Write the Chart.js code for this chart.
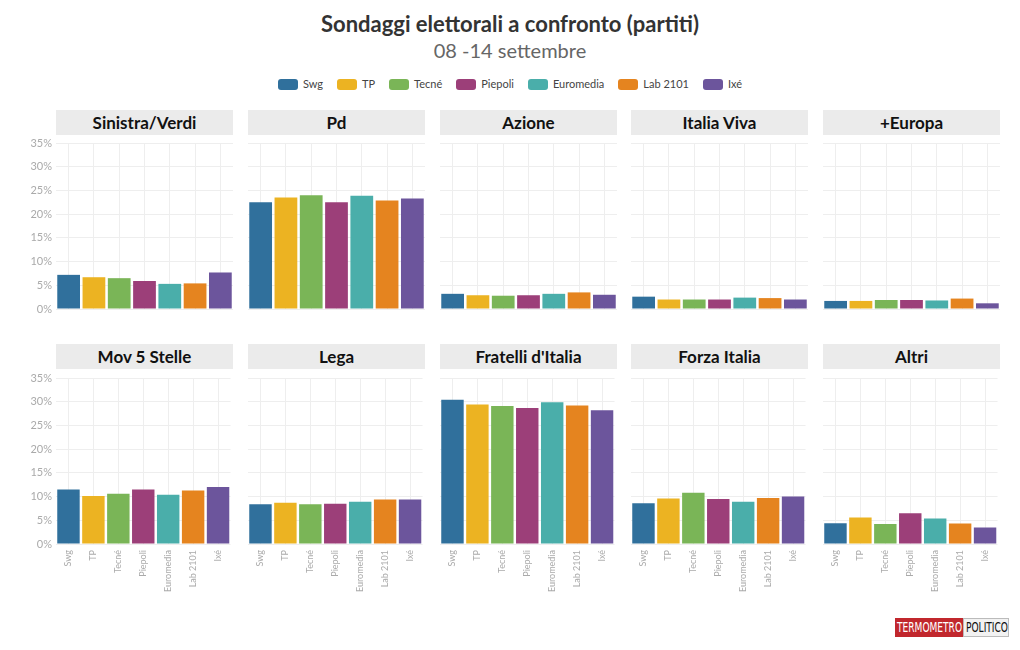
<!DOCTYPE html>
<html>
<head>
<meta charset="utf-8">
<script src="https://cdn.jsdelivr.net/npm/chart.js@4.4.0/dist/chart.umd.min.js"></script>
<style>
  body { margin: 0; width: 1020px; height: 650px; background: #fff; font-family: Lato, sans-serif; position: relative; overflow: hidden; }
  .title { position: absolute; left: 0; width: 1020px; top: 10px; text-align: center; font-size: 22px; font-weight: bold; color: #333; }
  .subtitle { position: absolute; left: 0; width: 1020px; top: 38px; text-align: center; font-size: 20px; color: #666; }
  #legend { position: absolute; left: 0; width: 1020px; top: 77px; text-align: center; font-size: 11px; color: #444; }
  #legend span.item { display: inline-block; margin: 0 7px; }
  #legend i { display: inline-block; width: 20px; height: 11px; border-radius: 3px; vertical-align: -2px; margin-right: 5px; }
  .strip { position: absolute; width: 177px; height: 25px; line-height: 25px; background: #ebebeb; text-align: center; font-weight: bold; font-size: 17px; color: #111; }
  canvas { position: absolute; }
  .logo { position: absolute; left: 895px; top: 618px; height: 19px; white-space: nowrap; font-family: "DejaVu Sans Condensed", "Liberation Sans", sans-serif; font-size: 14px; line-height: 19px; }
  .logo .box { position: absolute; top: 0; height: 19px; overflow: hidden; box-sizing: border-box; }
  .logo .box b { display: block; font-weight: normal; transform: scaleX(0.72); transform-origin: 0 0; }
  .logo .a { left: 0; width: 68px; background: #c1272d; color: #fff; padding-left: 2px; }
  .logo .b { left: 68px; width: 46px; background: #f2f2f2; color: #111; border: 1px solid #bbb; line-height: 17px; padding-left: 2px; }
</style>
</head>
<body>
<div class="title">Sondaggi elettorali a confronto (partiti)</div>
<div class="subtitle">08 -14 settembre</div>
<div id="legend"></div>
<div class="logo"><span class="box a"><b>TERMOMETRO</b></span><span class="box b"><b>POLITICO</b></span></div>

<script>
// pollsters and colours
const pollsters = ["Swg", "TP", "Tecné", "Piepoli", "Euromedia", "Lab 2101", "Ixé"]
const colors = ["#30709c", "#ecb322", "#7ab557", "#9c3f79", "#4aaeaa", "#e5841f", "#6c559c"]

// party names (panel order)
const parties = ["Sinistra/Verdi", "Pd", "Azione", "Italia Viva", "+Europa",
  "Mov 5 Stelle", "Lega", "Fratelli d'Italia", "Forza Italia", "Altri"]

// poll values (%), one per pollster
const sinistraVerdi = [7.2, 6.7, 6.5, 5.9, 5.3, 5.4, 7.7]
const pd = [22.5, 23.5, 24.0, 22.5, 23.9, 22.9, 23.3]
const azione = [3.2, 2.9, 2.8, 2.9, 3.2, 3.5, 3.0]
const italiaViva = [2.6, 2.0, 2.0, 2.0, 2.4, 2.3, 2.0]
const piuEuropa = [1.7, 1.7, 1.9, 1.9, 1.8, 2.2, 1.2]
const m5s = [11.5, 10.1, 10.6, 11.5, 10.4, 11.3, 12.0]
const lega = [8.4, 8.7, 8.4, 8.5, 8.9, 9.4, 9.4]
const fdi = [30.4, 29.4, 29.1, 28.7, 29.9, 29.2, 28.2]
const forzaItalia = [8.6, 9.6, 10.8, 9.5, 8.9, 9.7, 10.0]
const altri = [4.4, 5.6, 4.2, 6.5, 5.4, 4.3, 3.5]

const values = [sinistraVerdi, pd, azione, italiaViva, piuEuropa, m5s, lega, fdi, forzaItalia, altri]

// y ticks
const yMax = 35
const yStep = 5

// legend
const legend = document.getElementById("legend")
pollsters.forEach((p, i) => {
  const s = document.createElement("span")
  s.className = "item"
  s.innerHTML = '<i style="background:' + colors[i] + '"></i>' + p
  legend.appendChild(s)
})

const panelX = [56, 248, 440, 631, 823]
const panelW = 177
const axisW = 40
const padTop = 14

values.forEach((data, k) => {
  const col = k % 5
  const row = Math.floor(k / 5)
  const stripTop = row === 0 ? 110 : 344
  const plotTop = row === 0 ? 143 : 378
  const xAxisH = row === 0 ? 0 : 52
  const padBottom = row === 0 ? 14 : 2

  const strip = document.createElement("div")
  strip.className = "strip"
  strip.style.left = panelX[col] + "px"
  strip.style.top = stripTop + "px"
  strip.textContent = parties[k]
  document.body.appendChild(strip)

  const canvas = document.createElement("canvas")
  const h = padTop + 166 + xAxisH + padBottom
  canvas.width = axisW + panelW + 2
  canvas.height = h
  canvas.style.left = (panelX[col] - axisW) + "px"
  canvas.style.top = (plotTop - padTop) + "px"
  canvas.style.width = canvas.width + "px"
  canvas.style.height = h + "px"
  document.body.appendChild(canvas)

  new Chart(canvas.getContext("2d"), {
    type: "bar",
    data: {
      labels: pollsters,
      datasets: [{
        data: data,
        backgroundColor: colors,
        borderWidth: 0,
        categoryPercentage: 0.9,
        barPercentage: 1,
      }],
    },
    options: {
      responsive: false,
      animation: false,
      layout: { padding: { top: padTop, bottom: padBottom, left: 0, right: 2 } },
      plugins: { legend: { display: false }, tooltip: { enabled: false } },
      scales: {
        x: {
          offset: true,
          grid: { offset: false, color: "#eeeeee", drawTicks: false },
          border: { display: false },
          ticks: {
            display: row === 1,
            minRotation: 90,
            maxRotation: 90,
            padding: 6,
            color: "#aaaaaa",
            font: { family: "Lato", size: 9 },
            autoSkip: false,
          },
          afterFit: (s) => { s.height = xAxisH },
        },
        y: {
          min: 0,
          max: yMax,
          grid: { color: "#eeeeee", drawTicks: false },
          border: { display: false },
          ticks: {
            display: col === 0,
            stepSize: yStep,
            padding: 4,
            color: "#aaaaaa",
            font: { family: "Lato", size: 11 },
            callback: (v) => v + "%",
          },
          afterFit: (s) => { s.width = axisW },
        },
      },
    },
  })
})
</script>
</body>
</html>
